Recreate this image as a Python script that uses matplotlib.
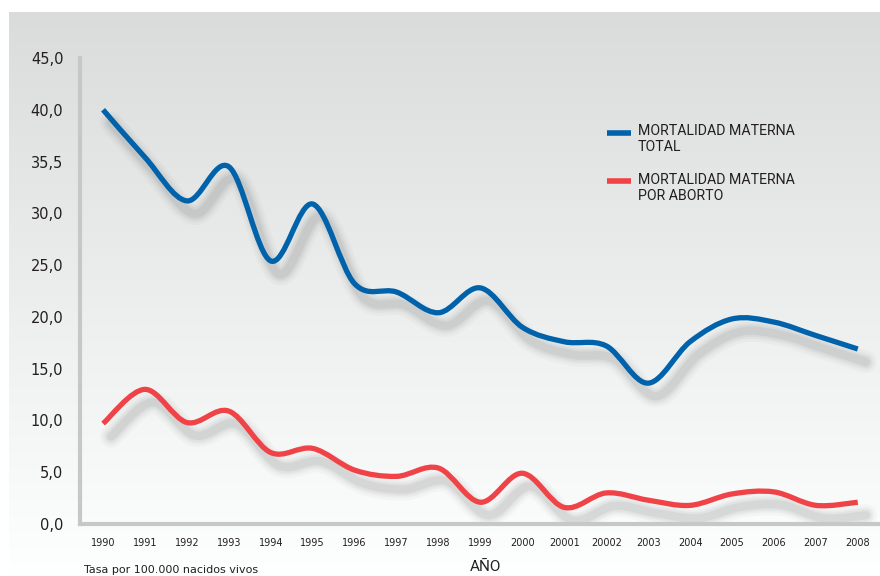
import numpy as np
import matplotlib
matplotlib.use('Agg')
import matplotlib.pyplot as plt
from matplotlib.path import Path
from matplotlib.patches import PathPatch
import matplotlib.transforms as mtransforms

# data
years = ['1990', '1991', '1992', '1993', '1994', '1995', '1996', '1997', '1998', '1999',
         '2000', '20001', '20002', '2003', '2004', '2005', '2006', '2007', '2008']
total = [40.0, 35.4, 31.2, 34.5, 25.4, 30.9, 23.2, 22.4, 20.4, 22.8,
         19.0, 17.6, 17.2, 13.6, 17.6, 19.8, 19.5, 18.2, 16.9]
aborto = [9.7, 13.0, 9.8, 10.9, 6.9, 7.3, 5.2, 4.6, 5.4, 2.1,
          4.9, 1.6, 3.0, 2.3, 1.8, 2.9, 3.1, 1.8, 2.1]
ytick_vals = [0, 5, 10, 15, 20, 25, 30, 35, 40, 45]
ytick_labels = ['0,0', '5,0', '10,0', '15,0', '20,0', '25,0', '30,0', '35,5', '40,0', '45,0']

BLUE = '#0062aa'
RED = '#ef4347'
SPINE = '#c6c7c8'
TXT = '#231f20'
narrow = ['Roboto', 'DejaVu Sans']


# smoothed line like excel: bezier segments through the points
def smooth_path(xs, ys):
    pts = np.column_stack([xs, ys]).astype(float)
    n = len(pts)
    verts = [pts[0]]
    codes = [Path.MOVETO]
    for i in range(n - 1):
        p0 = pts[max(i - 1, 0)]
        p1 = pts[i]
        p2 = pts[i + 1]
        p3 = pts[min(i + 2, n - 1)]
        c1 = p1 + (p2 - p0) / 6.0
        c2 = p2 - (p3 - p1) / 6.0
        verts += [c1, c2, p2]
        codes += [Path.CURVE4] * 3
    return Path(verts, codes)


fig = plt.figure(figsize=(8.8, 5.76), dpi=100)

# gray gradient background with white margin
bg = fig.add_axes([9 / 880, 0, 1 - 9 / 880, 1 - 12 / 576])
grad = np.linspace(0.86, 1.0, 256).reshape(-1, 1)
bg.imshow(np.dstack([grad * 0.995, grad, grad]), aspect='auto',
          extent=[0, 1, 0, 1], origin='upper', interpolation='bilinear')
bg.set_axis_off()

ax = fig.add_axes([80 / 880, 52 / 576, 800 / 880, 466 / 576])
ax.patch.set_alpha(0)
x = np.arange(len(years))
ax.set_xlim(-0.55, 18.53)
ax.set_ylim(0, 45)

for vals, col in [(total, BLUE), (aborto, RED)]:
    path = smooth_path(x, vals)
    # soft drop shadow
    for lw, a in [(16, 0.03), (12, 0.04), (9, 0.05), (6, 0.07)]:
        tr = mtransforms.offset_copy(ax.transData, fig=fig, x=8, y=-13, units='dots')
        ax.add_patch(PathPatch(path, facecolor='none', edgecolor='#404040', lw=lw,
                               alpha=a, transform=tr, capstyle='round', joinstyle='round'))
    ax.add_patch(PathPatch(path, facecolor='none', edgecolor=col, lw=3.8,
                           capstyle='butt', joinstyle='round', zorder=3))

for s in ['top', 'right']:
    ax.spines[s].set_visible(False)
for s in ['left', 'bottom']:
    ax.spines[s].set_color(SPINE)
    ax.spines[s].set_linewidth(3)

ax.set_yticks(ytick_vals)
ax.set_yticklabels(ytick_labels, fontsize=10.5, color=TXT)
ax.set_xticks(x)
ax.set_xticklabels(years, fontsize=7, color=TXT)
ax.tick_params(axis='both', length=0)
ax.tick_params(axis='y', pad=12)
ax.tick_params(axis='x', pad=10)

# legend drawn by hand
ax.plot([12.02, 12.59], [37.8, 37.8], color=BLUE, lw=4, solid_capstyle='butt')
ax.plot([12.02, 12.59], [33.1, 33.1], color=RED, lw=4, solid_capstyle='butt')
ax.text(12.76, 38.6, 'MORTALIDAD MATERNA\nTOTAL', fontsize=10.2, family=narrow,
        color=TXT, va='top', ha='left', linespacing=1.2)
ax.text(12.76, 33.9, 'MORTALIDAD MATERNA\nPOR ABORTO', fontsize=10.2, family=narrow,
        color=TXT, va='top', ha='left', linespacing=1.2)

fig.text(84 / 880, 1 - 570 / 576, 'Tasa por 100.000 nacidos vivos', fontsize=8,
         color=TXT, va='center', ha='left')
fig.text(485 / 880, 1 - 567 / 576, 'AÑO', fontsize=11, family=narrow, color=TXT,
         va='center', ha='center')

fig.savefig('out.png', dpi=100)
